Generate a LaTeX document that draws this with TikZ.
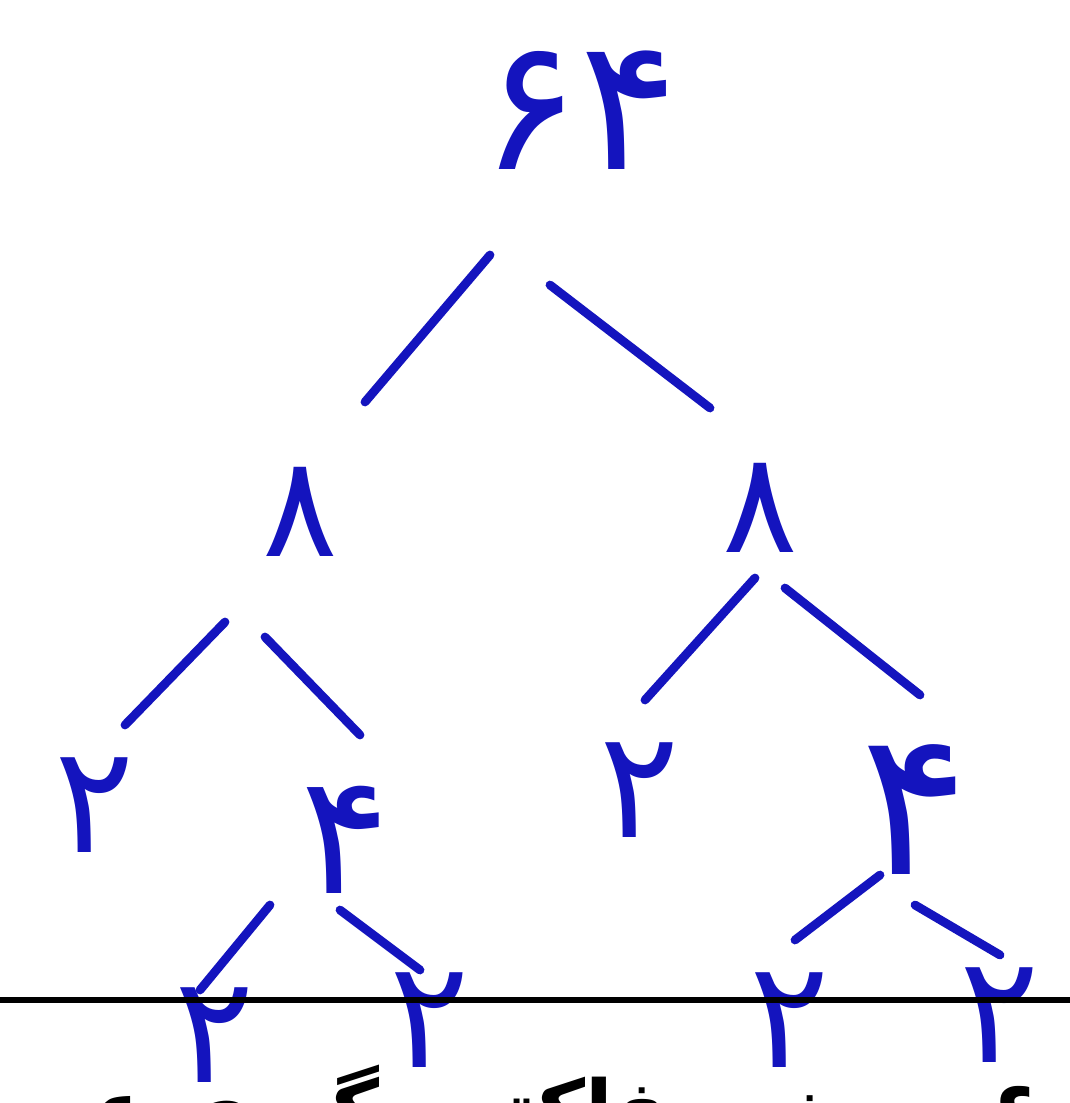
\documentclass[tikz,border=0pt]{standalone}
\usepackage{fontspec}
\usetikzlibrary{calc}
\newfontfamily\fadigits[Script=Arabic]{DejaVu Sans}
\TeXXeTstate=1
\definecolor{inkblue}{RGB}{20,20,190}
\tikzset{
  digit/.style={text=inkblue, inner sep=0pt, font=\fadigits\fontsize{#1}{#1}\selectfont},
  digit/.default=85,
  branch/.style={draw=inkblue, line width=5pt, line cap=round},
}
\begin{document}
\begin{tikzpicture}[x=0.02cm, y=-0.02cm]
    \useasboundingbox (0,0) rectangle (1070,1103);
    \clip (0,0) rectangle (1070,1103);
    \fill[white] (0,0) rectangle (1070,1103);
    % the tree
    \node[digit=105] (n64) at (580,110) {\beginR ۶۴\endR};
    \node[digit=80] (l8) at (300,512) {۸};
    \node[digit=80] (r8) at (760,508) {۸};
    \node[digit] (ll2) at (95,805) {۲};
    \node[digit=95] (l4) at (345,840) {۴};
    \node[digit] (rl2) at (640,790) {۲};
    \node[digit=115] (r4) at (915,810) {۴};
    \node[digit] (lll2) at (215,1035) {۲};
    \node[digit] (llr2) at (430,1020) {۲};
    \node[digit] (rrl2) at (790,1020) {۲};
    \node[digit] (rrr2) at (1000,1015) {۲};
    \draw[branch] ($(n64)+(-90,145)$) -- ($(l8)+(65,-110)$);
    \draw[branch] ($(n64)+(-30,175)$) -- ($(r8)+(-50,-100)$);
    \draw[branch] ($(l8)+(-75,110)$) -- ($(ll2)+(30,-80)$);
    \draw[branch] ($(l8)+(-35,125)$) -- ($(l4)+(15,-105)$);
    \draw[branch] ($(r8)+(-5,70)$) -- ($(rl2)+(5,-90)$);
    \draw[branch] ($(r8)+(25,80)$) -- ($(r4)+(5,-115)$);
    \draw[branch] ($(l4)+(-75,65)$) -- ($(lll2)+(-15,-45)$);
    \draw[branch] ($(l4)+(-5,70)$) -- ($(llr2)+(-10,-50)$);
    \draw[branch] ($(r4)+(-35,65)$) -- ($(rrl2)+(5,-80)$);
    \draw[branch] ($(r4)+(0,95)$) -- ($(rrr2)+(0,-60)$);
    % rule and the question under it
    \draw[line width=3.5pt] (0,1000) coordinate (ruleL) -- (1070,1000) coordinate (ruleR);
    \node[font=\fadigits\bfseries\fontsize{46}{46}\selectfont, anchor=base east, inner sep=0pt] (question) at (1040,1138)
      {\beginR ۶- درخت فاکتور گیری عدد ۶۴ با کدام گزینه برابر است؟\endR};
\end{tikzpicture}
\end{document}
